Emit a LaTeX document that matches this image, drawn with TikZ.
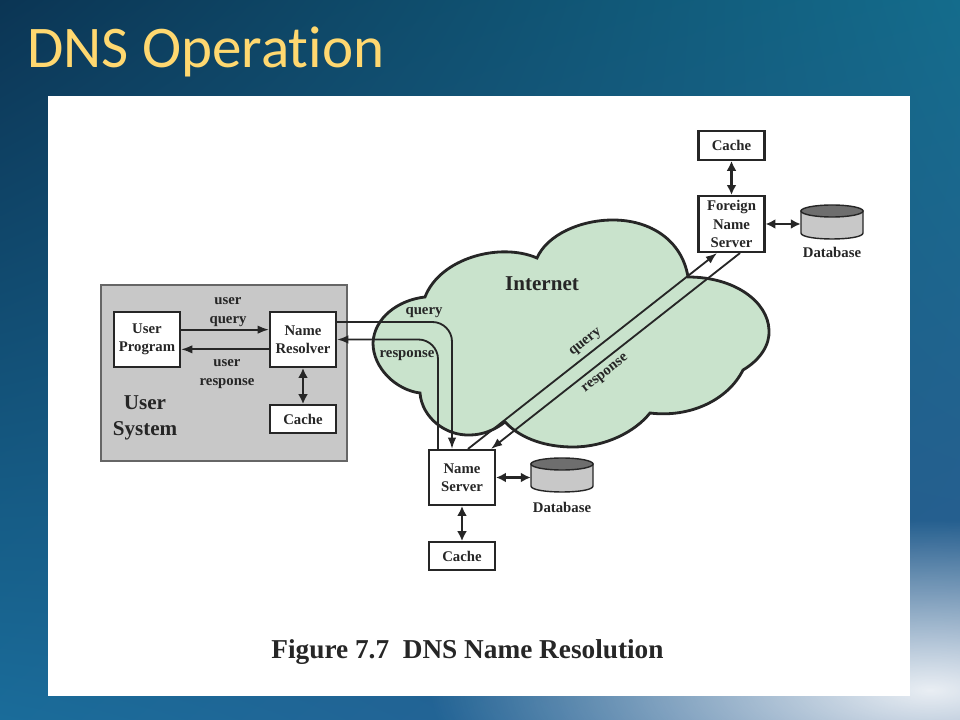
\documentclass[tikz,border=0pt]{standalone}
\usepackage{fontspec}
\setmainfont{Liberation Serif}
\newfontfamily\titlefont[Ligatures=NoCommon]{Carlito}
\usetikzlibrary{shadings, arrows.meta, positioning, calc, fadings}
\definecolor{SlideNavy}{HTML}{0B3554}
\definecolor{SlideTeal}{HTML}{146C8C}
\definecolor{SlideBlue}{HTML}{1A6C9A}
\definecolor{SlideDusk}{HTML}{2C5A90}
\definecolor{TitleGold}{HTML}{FFD870}
\definecolor{CloudGreen}{HTML}{C9E3CC}
\definecolor{PanelGray}{HTML}{C8C8C8}
\definecolor{DrumTop}{HTML}{6E6E6E}
\definecolor{InkDark}{HTML}{262626}
\tikzfading[name=fadeglow, inner color=transparent!10, outer color=transparent!100]
\tikzset{
  box/.style={draw=InkDark, line width=1.5pt, fill=white, minimum width=1.65cm, align=center, font=\bfseries\fontsize{10.5}{13}\selectfont, text=InkDark, inner sep=0pt},
  flow/.style={draw=InkDark, line width=1.3pt, -{Latex[length=8pt,width=6pt]}},
  link/.style={draw=InkDark, line width=1.5pt, {Latex[length=7pt,width=7pt]}-{Latex[length=7pt,width=7pt]}},
  caption/.style={font=\bfseries\fontsize{10.5}{13}\selectfont, text=InkDark, align=center},
  drumspot/.style={minimum width=1.55cm, minimum height=0.87cm, inner sep=0pt},
  drumline/.style={draw=InkDark, line width=1pt},
}
\newcommand{\drum}[3]{%
  \node (#1) [drumspot] at (#2,#3) {};
  \draw[drumline, fill=PanelGray] (#2-31,#3-11) -- (#2-31,#3+11) .. controls (#2-31,#3+19) and (#2+31,#3+19) .. (#2+31,#3+11) -- (#2+31,#3-11) -- cycle;
  \draw[drumline, fill=DrumTop] (#2,#3-11) ellipse [x radius=31, y radius=6];
}
\begin{document}
\begin{tikzpicture}[x=0.025cm, y=-0.025cm]
    % Slide
    \useasboundingbox (0,0) rectangle (960,720);
    \shade[upper left=SlideNavy, upper right=SlideTeal, lower left=SlideBlue, lower right=SlideDusk] (0,0) rectangle (960,720);
    \begin{scope}
        \clip (0,0) rectangle (960,720);
        \fill[white, path fading=fadeglow] (430,520) rectangle (1430,860);
    \end{scope}
    \node (title) [anchor=base west, inner sep=0pt, text=TitleGold, font=\titlefont\fontsize{42}{42}\selectfont] at (27,68) {DNS Operation};
    \fill[white] (48,96) rectangle (910,696);

    % User system
    \node (usersys) [draw=gray!80!black, line width=1pt, fill=PanelGray, minimum width=6.15cm, minimum height=4.4cm, inner sep=0pt] at (224,373) {};
    \node (program) [box, minimum height=1.375cm] at (147,339.5) {User\\Program};
    \node (resolver) [box, minimum height=1.375cm] at (303,339.5) {Name\\Resolver};
    \node (rescache) [box, minimum height=0.7cm, below=0.9cm of resolver] {Cache};
    \node (syslabel) [caption, font=\bfseries\fontsize{15}{18.5}\selectfont] at (145,418) {User\\System};
    \node (ulabel) [caption] at (228,312) {user\\query};
    \node (rlabel) [caption] at (227,374) {user\\response};

    % Cloud
    \path[draw=black!85, line width=2pt, fill=CloudGreen]
        (425,297) .. controls (398,300) and (374,318) .. (373,343)
        .. controls (373,368) and (396,390) .. (420,393)
        .. controls (422,418) and (446,436) .. (470,435)
        .. controls (482,435) and (495,430) .. (505,422)
        .. controls (522,440) and (548,447) .. (573,447)
        .. controls (605,447) and (635,432) .. (650,413)
        .. controls (690,418) and (728,400) .. (743,370)
        .. controls (760,360) and (770,345) .. (769,330)
        .. controls (768,302) and (735,277) .. (688,277)
        .. controls (682,240) and (650,220) .. (613,220)
        .. controls (580,220) and (547,235) .. (537,258)
        .. controls (500,242) and (440,258) .. (425,297) -- cycle;
    \node (internet) [caption, font=\bfseries\fontsize{15}{17}\selectfont] at (542,284) {Internet};
    \node (qlabel) [caption] at (424,313) {query};
    \node (plabel) [caption] at (407,356) {response};

    % Servers
    \node (server) [box, minimum height=1.375cm] at (462,477.5) {Name\\Server};
    \node (srvcache) [box, minimum height=0.7cm, below=0.875cm of server] {Cache};
    \drum{srvdb}{562}{475}
    \node (srvdblabel) [caption, below=3pt of srvdb] {Database};
    \node (foreign) [box, minimum height=1.4cm] at (731.5,224) {Foreign\\Name\\Server};
    \node (forcache) [box, minimum height=0.72cm, above=0.85cm of foreign] {Cache};
    \drum{fordb}{832}{222}
    \node (fordblabel) [caption, below=1.5pt of fordb] {Database};

    % Arrows
    \draw[flow] ([yshift=7pt]program.east) -- ([yshift=7pt]resolver.west);
    \draw[flow] ([yshift=-7pt]resolver.west) -- ([yshift=-7pt]program.east);
    \draw[link] (resolver) -- (rescache);
    \draw[link] (server) -- (srvcache);
    \draw[link] (foreign) -- (forcache);
    \draw[link] (server.east) -- (server.east -| srvdb.west);
    \draw[link] (foreign.east) -- (foreign.east -| fordb.west);
    \draw[flow, rounded corners=14pt] (resolver.east |- 0,322) -| (452,0 |- server.north);
    \draw[flow, rounded corners=14pt] (438,0 |- server.north) |- (resolver.east);
    \draw[flow] (468,0 |- server.north) -- node (qdiag) [caption, pos=0.5, sloped, above=0pt] {query} (717,0 |- foreign.south);
    \draw[flow] (740,0 |- foreign.south) -- node (rdiag) [caption, pos=0.57, sloped, below=1pt] {response} (491,0 |- server.north);

    % Figure caption
    \node (figcap) [caption, font=\bfseries\fontsize{19.4}{22}\selectfont] at (467.5,652) {Figure 7.7\ \ DNS Name Resolution};
\end{tikzpicture}
\end{document}
